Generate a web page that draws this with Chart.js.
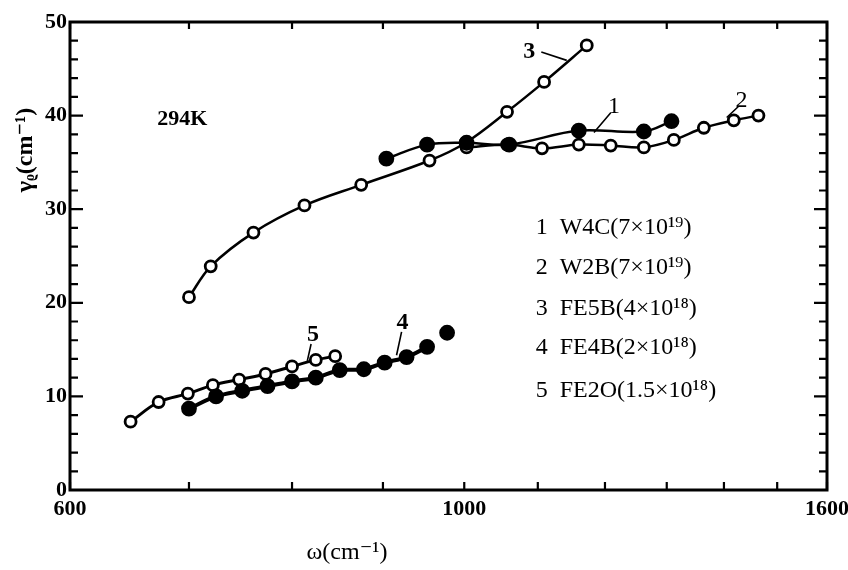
<!DOCTYPE html>
<html>
<head>
<meta charset="utf-8">
<script src="https://cdn.jsdelivr.net/npm/chart.js@4.4.0/dist/chart.umd.min.js"></script>
<style>
html, body { margin: 0; padding: 0; background: #fff; }
#wrap { width: 848px; height: 570px; }
</style>
</head>
<body>
<div id="wrap"><canvas id="chart"></canvas></div>
<script>
// axis ticks
const xTicks = [600, 700, 800, 900, 1000, 1100, 1200, 1300, 1400, 1500, 1600];
const xLabels = { 600: '600', 1000: '1000', 1600: '1600' };
const yTicks = [0, 10, 20, 30, 40, 50];

// series
const w4cX = [904, 953, 1003, 1060, 1160, 1262, 1308];
const w4cY = [35.4, 36.9, 37.1, 36.9, 38.4, 38.3, 39.4];

const w2bX = [1003, 1057, 1106, 1160, 1209, 1262, 1312, 1364, 1418, 1464];
const w2bY = [36.6, 36.9, 36.5, 36.9, 36.8, 36.6, 37.4, 38.7, 39.5, 40.0];

const fe5bX = [700, 720, 761, 813, 875, 956, 1002, 1057, 1109, 1172];
const fe5bY = [20.6, 23.9, 27.5, 30.4, 32.6, 35.2, 37.1, 40.4, 43.6, 47.5];

const fe4bX = [700, 725, 750, 775, 800, 825, 851, 878, 902, 928, 953, 978];
const fe4bY = [8.7, 10.0, 10.6, 11.1, 11.6, 12.0, 12.8, 12.9, 13.6, 14.2, 15.3, 16.8];

const fe2oX = [649, 673, 699, 722, 747, 773, 800, 825, 846];
const fe2oY = [7.3, 9.4, 10.3, 11.2, 11.8, 12.4, 13.2, 13.9, 14.3];

const legendRows = ['1  W4C(7×10¹⁹)', '2  W2B(7×10¹⁹)', '3  FE5B(4×10¹⁸)', '4  FE4B(2×10¹⁸)', '5  FE2O(1.5×10¹⁸)'];

const serif = '"Liberation Serif", "DejaVu Serif", serif';

function pts(xs, ys) {
    return xs.map((v, i) => ({ x: v, y: ys[i] }));
}

function series(label, xs, ys, filled, width) {
    return {
        label: label,
        data: pts(xs, ys),
        borderColor: '#000',
        borderWidth: width || 2.5,
        backgroundColor: filled ? '#000' : '#fff',
        pointBorderColor: '#000',
        pointBorderWidth: 2.8,
        pointRadius: filled ? 6.5 : 5.5,
        tension: 0.35,
        fill: false
    };
}

const fe4b = series('FE4B', fe4bX, fe4bY, true, 4);
// last FE4B point stands alone in the original
fe4b.segment = {
    borderColor: c => c.p1DataIndex === fe4bX.length - 1 ? 'rgba(0,0,0,0)' : '#000'
};

// hand-placed notes, in data units
const notes = [
    { t: '294K', x: 694, y: 39.6, font: 'bold 22px ' },
    { t: '1', x: 1214, y: 41.0, font: '24px ' },
    { t: '2', x: 1432, y: 41.6, font: '24px ' },
    { t: '3', x: 1088, y: 46.8, font: 'bold 24px ' },
    { t: '4', x: 923, y: 17.9, font: 'bold 24px ' },
    { t: '5', x: 822, y: 16.6, font: 'bold 24px ' }
];
const leaders = [
    [1209, 40.3, 1183, 38.2],
    [1427, 41.0, 1405, 39.8],
    [1105, 46.8, 1142, 45.9],
    [922, 16.9, 916, 14.4],
    [820, 15.6, 816, 13.8]
];
const legendX = 1097;
const legendY = [28.0, 23.7, 19.4, 15.2, 10.6];

const frame = {
    id: 'frame',
    beforeDatasetsDraw(chart) {
        const { ctx, chartArea: a, scales: { x, y } } = chart;
        ctx.save();
        ctx.strokeStyle = '#000';
        ctx.lineWidth = 3;
        ctx.strokeRect(a.left, a.top, a.right - a.left, a.bottom - a.top);
        ctx.lineWidth = 2.2;
        ctx.beginPath();
        xTicks.forEach(v => {
            const px = x.getPixelForValue(v);
            ctx.moveTo(px, a.bottom); ctx.lineTo(px, a.bottom - 8);
            ctx.moveTo(px, a.top); ctx.lineTo(px, a.top + 7);
        });
        for (let v = 0; v <= 50; v += 2) {
            const py = y.getPixelForValue(v);
            const len = v % 10 === 0 ? 13 : 8;
            ctx.moveTo(a.left, py); ctx.lineTo(a.left + len, py);
            ctx.moveTo(a.right, py); ctx.lineTo(a.right - len, py);
        }
        ctx.stroke();

        // leader lines
        ctx.lineWidth = 1.6;
        ctx.beginPath();
        leaders.forEach(l => {
            ctx.moveTo(x.getPixelForValue(l[0]), y.getPixelForValue(l[1]));
            ctx.lineTo(x.getPixelForValue(l[2]), y.getPixelForValue(l[3]));
        });
        ctx.stroke();

        ctx.fillStyle = '#000';
        ctx.textAlign = 'center';
        ctx.textBaseline = 'middle';
        notes.forEach(n => {
            ctx.font = n.font + serif;
            ctx.fillText(n.t, x.getPixelForValue(n.x), y.getPixelForValue(n.y));
        });

        ctx.textAlign = 'left';
        ctx.font = '24px ' + serif;
        legendRows.forEach((t, i) => {
            ctx.fillText(t, x.getPixelForValue(legendX), y.getPixelForValue(legendY[i]));
        });

        // axis titles
        ctx.textAlign = 'center';
        ctx.font = '24px ' + serif;
        ctx.fillText('ω(cm⁻¹)', 347, 553);
        ctx.translate(26, 150);
        ctx.rotate(-Math.PI / 2);
        ctx.font = 'bold 24px ' + serif;
        ctx.fillText('γᵨ(cm⁻¹)', 0, 0);
        ctx.restore();
    }
};

const ctx = document.getElementById('chart').getContext('2d');

new Chart(ctx, {
    type: 'line',
    data: {
        datasets: [
            series('W4C', w4cX, w4cY, true),
            series('W2B', w2bX, w2bY, false),
            series('FE5B', fe5bX, fe5bY, false),
            fe4b,
            series('FE2O', fe2oX, fe2oY, false, 3)
        ]
    },
    options: {
        responsive: true,
        maintainAspectRatio: false,
        animation: false,
        layout: { padding: { top: 22, right: 21, left: 0, bottom: 0 } },
        plugins: {
            legend: { display: false },
            tooltip: { enabled: false }
        },
        scales: {
            x: {
                type: 'logarithmic',
                min: 600,
                max: 1600,
                afterBuildTicks: s => { s.ticks = xTicks.map(v => ({ value: v })); },
                afterFit: s => { s.height = 80; s.paddingRight = 0; s.paddingLeft = 0; },
                ticks: {
                    autoSkip: false,
                    maxRotation: 0,
                    padding: 6,
                    color: '#000',
                    font: { family: serif, size: 22, weight: 'bold' },
                    callback: v => xLabels[v] || ''
                },
                grid: { display: false, drawTicks: false },
                border: { display: false }
            },
            y: {
                min: 0,
                max: 50,
                afterBuildTicks: s => { s.ticks = yTicks.map(v => ({ value: v })); },
                afterFit: s => { s.width = 70; },
                ticks: {
                    padding: 3,
                    color: '#000',
                    font: { family: serif, size: 22, weight: 'bold' }
                },
                grid: { display: false, drawTicks: false },
                border: { display: false }
            }
        }
    },
    plugins: [frame]
});
</script>
</body>
</html>
